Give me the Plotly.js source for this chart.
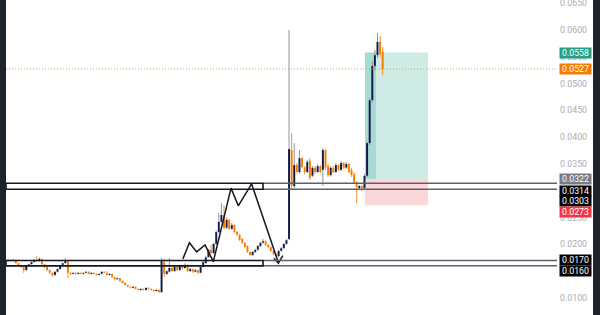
<!DOCTYPE html>
<html><head><meta charset="utf-8">
<script src="https://cdn.plot.ly/plotly-3.0.1.min.js"></script>
<style>
html,body{margin:0;padding:0;width:600px;height:315px;overflow:hidden;background:#1e222d;}
#chart{position:absolute;left:6px;top:0;width:587px;height:315px;background:#fff;}
</style></head><body><div id="chart"></div>
<script>
// ---- candle data (index = bar number) ----
const opens=[.0169,.0171,.0169,.0171,.0165,.0160,.0158,.0152,.0160,.0163,.0167,.0171,.0169,.0173,.0163,.0158,.0152,.0147,.0143,.0149,.0154,.0160,.0165,.0169,
.0147,.0145,.0147,.0145,.0147,.0145,.0147,.0149,.0145,.0147,.0145,.0143,.0145,.0149,.0147,.0143,.0145,.0139,.0135,.0137,.0132,.0128,.0124,.0121,.0119,.0121,.0117,.0115,.0117,.0115,.0119,.0117,.0115,.0113,.0115,
.0111,.0167,.0145,.0149,.0156,.0150,.0158,.0152,.0160,.0156,.0162,.0150,.0154,.0149,.0152,.0147,.0158,.0165,.0176,.0190,.0184,.0201,.0223,.0242,.0255,.0231,.0246,.0229,.0236,.0223,.0218,.0210,.0203,.0197,.0186,.0180,.0186,.0190,.0197,.0203,.0206,.0199,.0195,.0188,.0182,.0178,.0188,.0193,.0201,
.0210,.0376,.0309,.0348,.0335,.0361,.0344,.0335,.0356,.0328,.0343,.0335,.0346,.0339,.0376,.0346,.0329,.0343,.0335,.0348,.0339,.0352,.0343,.0350,.0339,.0331,.0316,.0305,.0309,.0305,.0328,.0389,.0469,.0533,.0553,.0578,.0560];
const highs=[.0173,.0172,.0173,.0172,.0166,.0162,.0159,.0161,.0164,.0168,.0173,.0178,.0176,.0174,.0164,.0159,.0153,.0148,.0150,.0155,.0161,.0166,.0175,.0171,
.0149,.0148,.0148,.0149,.0148,.0148,.0150,.0150,.0148,.0148,.0146,.0146,.0150,.0150,.0150,.0146,.0146,.0140,.0138,.0138,.0133,.0129,.0125,.0122,.0122,.0122,.0118,.0118,.0118,.0120,.0120,.0118,.0116,.0116,.0116,
.0175,.0173,.0152,.0175,.0158,.0160,.0159,.0162,.0162,.0165,.0163,.0156,.0155,.0154,.0153,.0160,.0169,.0178,.0192,.0199,.0203,.0226,.0259,.0277,.0273,.0250,.0248,.0240,.0237,.0225,.0220,.0212,.0204,.0198,.0187,.0188,.0192,.0199,.0205,.0210,.0207,.0201,.0196,.0190,.0184,.0190,.0195,.0203,.0210,
.0600,.0408,.0389,.0352,.0376,.0363,.0346,.0358,.0361,.0346,.0346,.0350,.0348,.0380,.0378,.0350,.0346,.0346,.0352,.0350,.0356,.0354,.0354,.0352,.0343,.0335,.0318,.0311,.0311,.0331,.0392,.0473,.0542,.0563,.0594,.0589,.0568];
const lows=[.0168,.0168,.0168,.0164,.0158,.0156,.0147,.0150,.0158,.0162,.0166,.0167,.0168,.0162,.0156,.0150,.0145,.0139,.0141,.0147,.0153,.0159,.0164,.0137,
.0143,.0144,.0143,.0144,.0144,.0144,.0146,.0144,.0144,.0144,.0142,.0142,.0144,.0146,.0142,.0142,.0138,.0133,.0134,.0130,.0127,.0123,.0120,.0118,.0118,.0116,.0114,.0114,.0114,.0114,.0116,.0114,.0112,.0112,.0110,
.0109,.0139,.0143,.0147,.0149,.0149,.0150,.0151,.0154,.0155,.0148,.0149,.0147,.0148,.0145,.0146,.0157,.0164,.0175,.0182,.0182,.0199,.0221,.0240,.0229,.0229,.0227,.0227,.0221,.0216,.0206,.0201,.0193,.0184,.0178,.0178,.0184,.0188,.0195,.0201,.0197,.0193,.0186,.0180,.0175,.0176,.0186,.0191,.0199,
.0208,.0302,.0305,.0333,.0331,.0342,.0331,.0333,.0320,.0326,.0331,.0333,.0333,.0309,.0339,.0326,.0327,.0333,.0333,.0337,.0337,.0341,.0341,.0333,.0326,.0313,.0277,.0302,.0300,.0303,.0326,.0385,.0465,.0525,.0548,.0550,.0516];
const closes=[.0171,.0169,.0171,.0165,.0160,.0158,.0152,.0160,.0163,.0167,.0171,.0169,.0173,.0163,.0158,.0152,.0147,.0143,.0149,.0154,.0160,.0165,.0169,.0147,
.0145,.0147,.0145,.0147,.0145,.0147,.0149,.0145,.0147,.0145,.0143,.0145,.0149,.0147,.0143,.0145,.0139,.0135,.0137,.0132,.0128,.0124,.0121,.0119,.0121,.0117,.0115,.0117,.0115,.0119,.0117,.0115,.0113,.0115,.0111,
.0169,.0145,.0150,.0156,.0150,.0158,.0152,.0160,.0156,.0162,.0150,.0154,.0149,.0152,.0147,.0158,.0167,.0176,.0190,.0184,.0201,.0223,.0242,.0255,.0231,.0246,.0229,.0236,.0223,.0218,.0208,.0203,.0195,.0186,.0180,.0186,.0190,.0197,.0203,.0206,.0199,.0195,.0188,.0182,.0178,.0188,.0193,.0201,.0208,
.0378,.0309,.0348,.0335,.0361,.0344,.0335,.0354,.0324,.0343,.0335,.0346,.0335,.0376,.0343,.0329,.0343,.0335,.0348,.0339,.0352,.0343,.0350,.0335,.0329,.0316,.0307,.0309,.0305,.0328,.0389,.0469,.0533,.0553,.0578,.0555,.0527];

// ---- axis ticks ----
const tickValues=[0.0100,0.0150,0.0200,0.0250,0.0300,0.0350,0.0400,0.0450,0.0500,0.0550,0.0600,0.0650];

// ---- drawings: horizontal zones ----
const upperZone=[0.0303,0.0314];
const lowerZone=[0.0160,0.0170];
const zoneEndBar=[98];

// ---- drawings: zigzag pattern (bar index, price) ----
const zigBars=[67.2,69.7,72.5,75.7,78.9,85.7,88.5,93.6,103.9];
const zigPrices=[0.0173,0.0203,0.0186,0.0199,0.0168,0.0305,0.0272,0.0313,0.0166];
const arrowBars=[102.2,103.9,105.6];
const arrowPrices=[0.0174,0.0165,0.0179];

// ---- long position tool ----
const positionBars=[137.2,161.4];
const positionFilledBar=[141.4];
const targetPrice=[0.0558];
const entryPrice=[0.0322];
const stopPrice=[0.0273];
const lastPrice=[0.0527];

// ---- right-side price labels ----
const labelValues=[0.0558,0.0527,0.0322,0.0314,0.0303,0.0273,0.0170,0.0160];
const labelColors=['#22a186','#f57c00','#787b86','#000000','#000000','#f23645','#000000','#000000'];
const labelShifts=[0,0,0,-8,-12,-7,0,-5];

const UP='#111a44', DOWN='#f57c00', UPWICK='#8f939e', DOWNWICK='#f7932e';
const idx=opens.map((_,i)=>i);
const uwx=[],uwy=[],dwx=[],dwy=[];
const bodyBase=[],bodyH=[],bodyC=[];
idx.forEach(i=>{
  const o=opens[i],c=closes[i],h=highs[i],l=lows[i];
  const top=Math.max(o,c),bot=Math.min(o,c),up=c>=o;
  const wx=up?uwx:dwx, wy=up?uwy:dwy;
  wx.push(i,i,null,i,i,null); wy.push(l,bot,null,top,h,null);
  bodyBase.push(bot); bodyH.push(Math.max(top-bot,0.00008)); bodyC.push(up?UP:DOWN);
});

const traces=[
 {type:'scatter',mode:'lines',x:uwx,y:uwy,line:{color:UPWICK,width:1},hoverinfo:'skip',connectgaps:false},
 {type:'scatter',mode:'lines',x:dwx,y:dwy,line:{color:DOWNWICK,width:1},hoverinfo:'skip',connectgaps:false},
 {type:'bar',x:idx,y:bodyH,base:bodyBase,width:0.75,marker:{color:bodyC,line:{width:0}},hoverinfo:'skip'},
 {type:'scatter',mode:'lines',x:zigBars,y:zigPrices,line:{color:'#131722',width:1.5},hoverinfo:'skip'},
 {type:'scatter',mode:'lines',x:arrowBars,y:arrowPrices,line:{color:'#131722',width:1.5},hoverinfo:'skip'}
];

const xMin=-0.8,xMax=211;
const shapes=[
 {type:'rect',layer:'below',xref:'x',yref:'y',x0:positionBars[0],x1:positionBars[1],y0:entryPrice[0],y1:targetPrice[0],fillcolor:'rgba(8,153,129,0.2)',line:{width:0}},
 {type:'rect',layer:'below',xref:'x',yref:'y',x0:positionBars[0],x1:positionFilledBar[0],y0:entryPrice[0],y1:targetPrice[0],fillcolor:'rgba(8,153,129,0.2)',line:{width:0}},
 {type:'rect',layer:'below',xref:'x',yref:'y',x0:positionBars[0],x1:positionBars[1],y0:stopPrice[0],y1:entryPrice[0],fillcolor:'rgba(242,54,69,0.2)',line:{width:0}},
];
[upperZone,lowerZone].forEach(z=>{
  z.forEach(v=>shapes.push({type:'line',xref:'x',yref:'y',x0:zoneEndBar[0],x1:xMax,y0:v,y1:v,line:{color:'#5d606b',width:1.5}}));
  shapes.push({type:'rect',xref:'x',yref:'y',x0:xMin,x1:zoneEndBar[0],y0:z[0],y1:z[1],fillcolor:'rgba(0,0,0,0)',line:{color:'#131722',width:1.6}});
});
shapes.push({type:'line',xref:'paper',yref:'y',x0:0,x1:1,y0:lastPrice[0],y1:lastPrice[0],opacity:0.75,line:{color:'#f57c00',width:1,dash:'1px,2px'}});

const annotations=labelValues.map((v,k)=>({
  xref:'paper',yref:'y',x:1,y:v,xanchor:'left',yanchor:'middle',xshift:2,yshift:labelShifts[k],
  text:v.toFixed(4),showarrow:false,bgcolor:labelColors[k],width:31,height:10,borderpad:0,
  font:{family:'Roboto',size:8.8,color:'#ffffff'}
}));

const layout={
  width:587,height:315,margin:{l:0,r:36,t:0,b:0,pad:0},
  paper_bgcolor:'#ffffff',plot_bgcolor:'#ffffff',showlegend:false,
  xaxis:{range:[xMin,xMax],visible:false,fixedrange:true},
  yaxis:{range:[0.0068284,0.065597],side:'right',tickvals:tickValues,ticktext:tickValues.map(v=>v.toFixed(4)),
    showgrid:false,zeroline:false,showline:false,ticks:'',ticklabelstandoff:2,ticklabeloverflow:'allow',
    tickfont:{family:'Roboto',size:8.8,color:'#a9acb5'},fixedrange:true},
  shapes:shapes,annotations:annotations,hovermode:false
};
Plotly.newPlot('chart',traces,layout,{staticPlot:true,displayModeBar:false});
</script></body></html>
